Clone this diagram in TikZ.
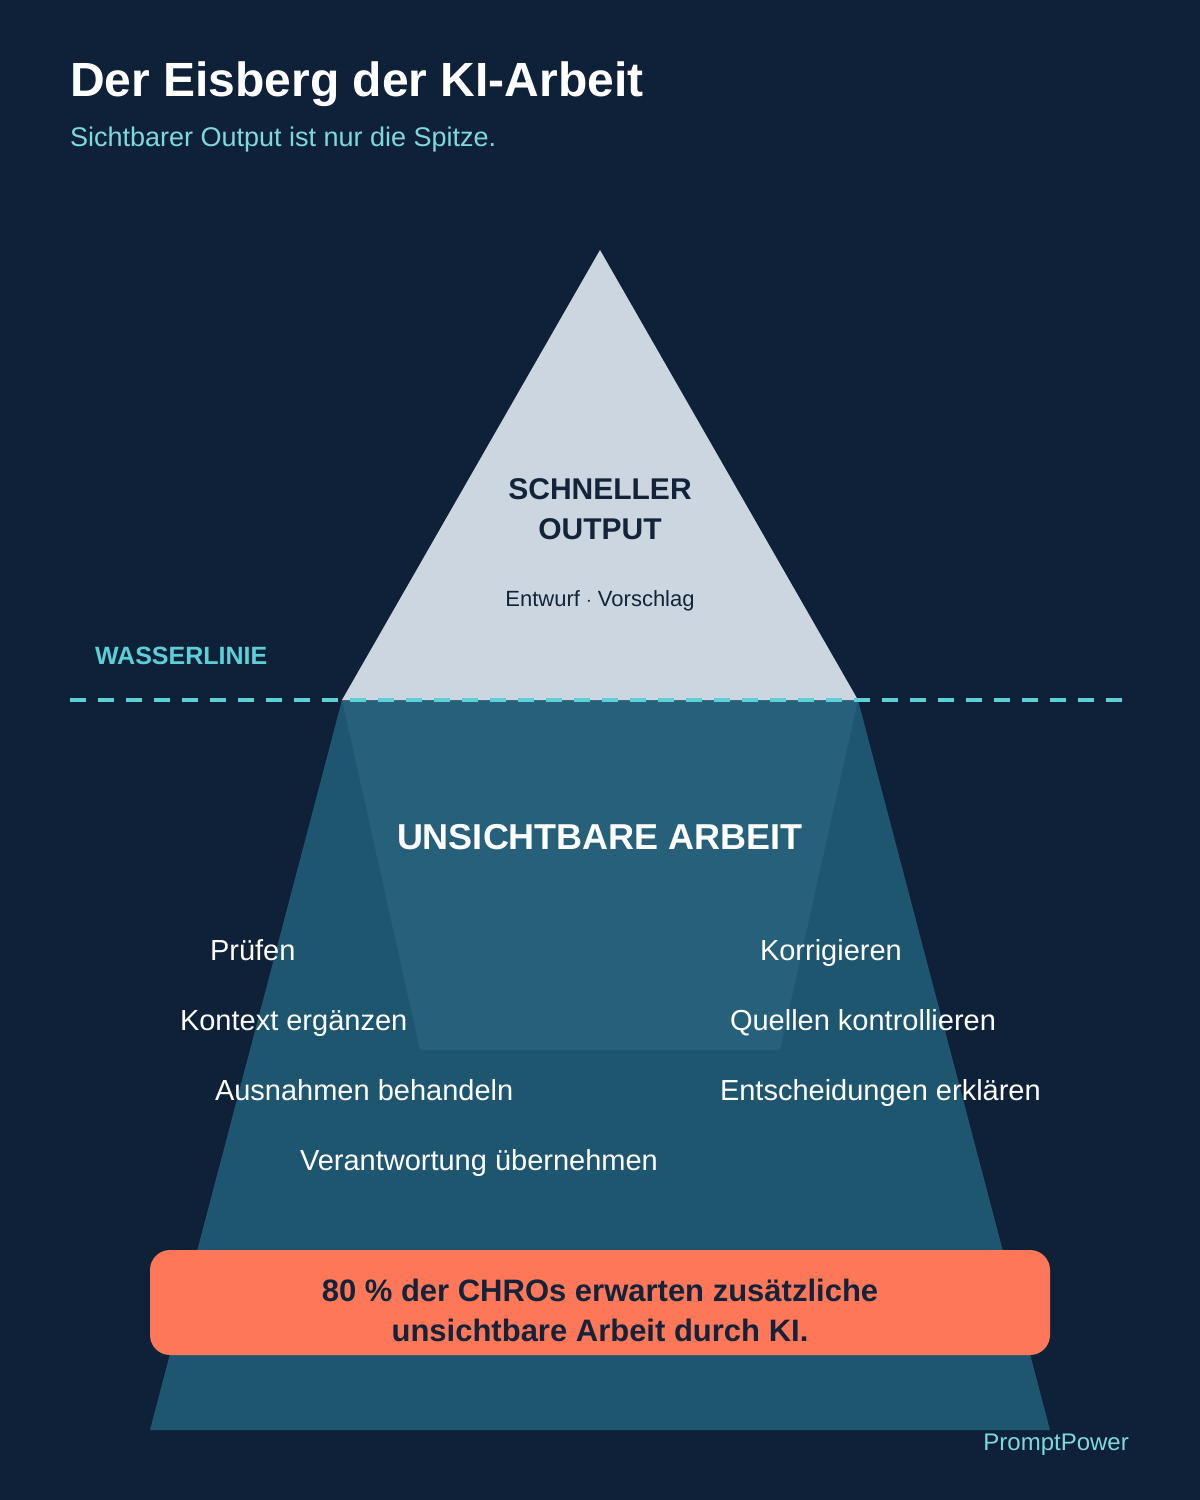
\documentclass[tikz,border=0pt]{standalone}
\usepackage{fontspec}
\setmainfont{Liberation Sans}
\usepackage{tikz}
\usetikzlibrary{positioning}
\definecolor{navybg}{HTML}{0F2139}
\definecolor{icetop}{HTML}{CBD6E0}
\definecolor{iceunder}{HTML}{1E5670}
\definecolor{icecore}{HTML}{26607A}
\definecolor{wline}{HTML}{5CCFD7}
\definecolor{subcyan}{HTML}{7ED9DC}
\definecolor{coral}{HTML}{FF7759}
\definecolor{inkdark}{HTML}{13243A}
\tikzset{
  txt/.style={ inner sep=0pt, outer sep=0pt, anchor=base west }
}
\tikzset{
  itemtxt/.style={ txt, text=white, font=\fontsize{29}{34}\selectfont }
}
\tikzset{
  tiptxt/.style={ inner sep=0pt, align=center, text=inkdark }
}
\tikzset{
  statbox/.style={ fill=coral, rounded corners=20pt, minimum width=900pt, minimum height=105pt, inner sep=0pt }
}
\tikzset{
  stattxt/.style={ inner sep=0pt, align=center, text=inkdark, font=\bfseries\fontsize{31}{40}\selectfont }
}

\begin{document}
\begin{tikzpicture}[x=1pt, y=-1pt]
      \fill[navybg] (0,0) rectangle (1200,1500);
      \useasboundingbox (0,0) rectangle (1200,1500);
      % iceberg
      \fill[iceunder] (342,700) -- (858,700) -- (1050,1430) -- (150,1430) -- cycle;
      \fill[icecore] (342,700) -- (858,700) -- (780,1050) -- (420,1050) -- cycle;
      \fill[icetop] (600,250) -- (858,700) -- (342,700) -- cycle;
      \coordinate (wl0) at (70,700);
      \coordinate (wl1) at (1125,700);
      \draw[wline, line width=4pt, dash pattern=on 16pt off 12pt] (wl0) -- (wl1);
      % titles
      \node[txt, text=white, font=\bfseries\fontsize{48}{56}\selectfont] (title) at (70,96) {Der Eisberg der KI-Arbeit};
      \node[txt, text=subcyan, font=\fontsize{27}{30}\selectfont] (sub) at (70,146) {Sichtbarer Output ist nur die Spitze.};
      \node[tiptxt, font=\bfseries\fontsize{30}{40}\selectfont] (tip) at (600,509) {SCHNELLER\\OUTPUT};
      \node[tiptxt, anchor=base, font=\fontsize{22}{26}\selectfont] (tipsub) at (600,606) {Entwurf $\cdot$ Vorschlag};
      \node[txt, text=wline, font=\bfseries\fontsize{25}{28}\selectfont] (wlabel) at (95,664) {WASSERLINIE};
      \node[inner sep=0pt, anchor=base, text=white, font=\bfseries\fontsize{36}{42}\selectfont] (hidden) at (600,849) {UNSICHTBARE ARBEIT};
      % tasks
      \node[itemtxt] (t1) at (210,960) {Prüfen};
      \node[itemtxt] (t2) at (180,1030) {Kontext ergänzen};
      \node[itemtxt] (t3) at (215,1100) {Ausnahmen behandeln};
      \node[itemtxt] (t4) at (300,1170) {Verantwortung übernehmen};
      \node[itemtxt] (t5) at (760,960) {Korrigieren};
      \node[itemtxt] (t6) at (730,1030) {Quellen kontrollieren};
      \node[itemtxt] (t7) at (720,1100) {Entscheidungen erklären};
      \node[statbox] (stat) at (600,1302.5) {};
      \node[stattxt] (stattext) at (600,1310) {80 \% der CHROs erwarten zusätzliche\\unsichtbare Arbeit durch KI.};
      \node[inner sep=0pt, anchor=base east, text=subcyan, font=\fontsize{24}{28}\selectfont] (brand) at (1129,1450) {PromptPower};
    \end{tikzpicture}
\end{document}
